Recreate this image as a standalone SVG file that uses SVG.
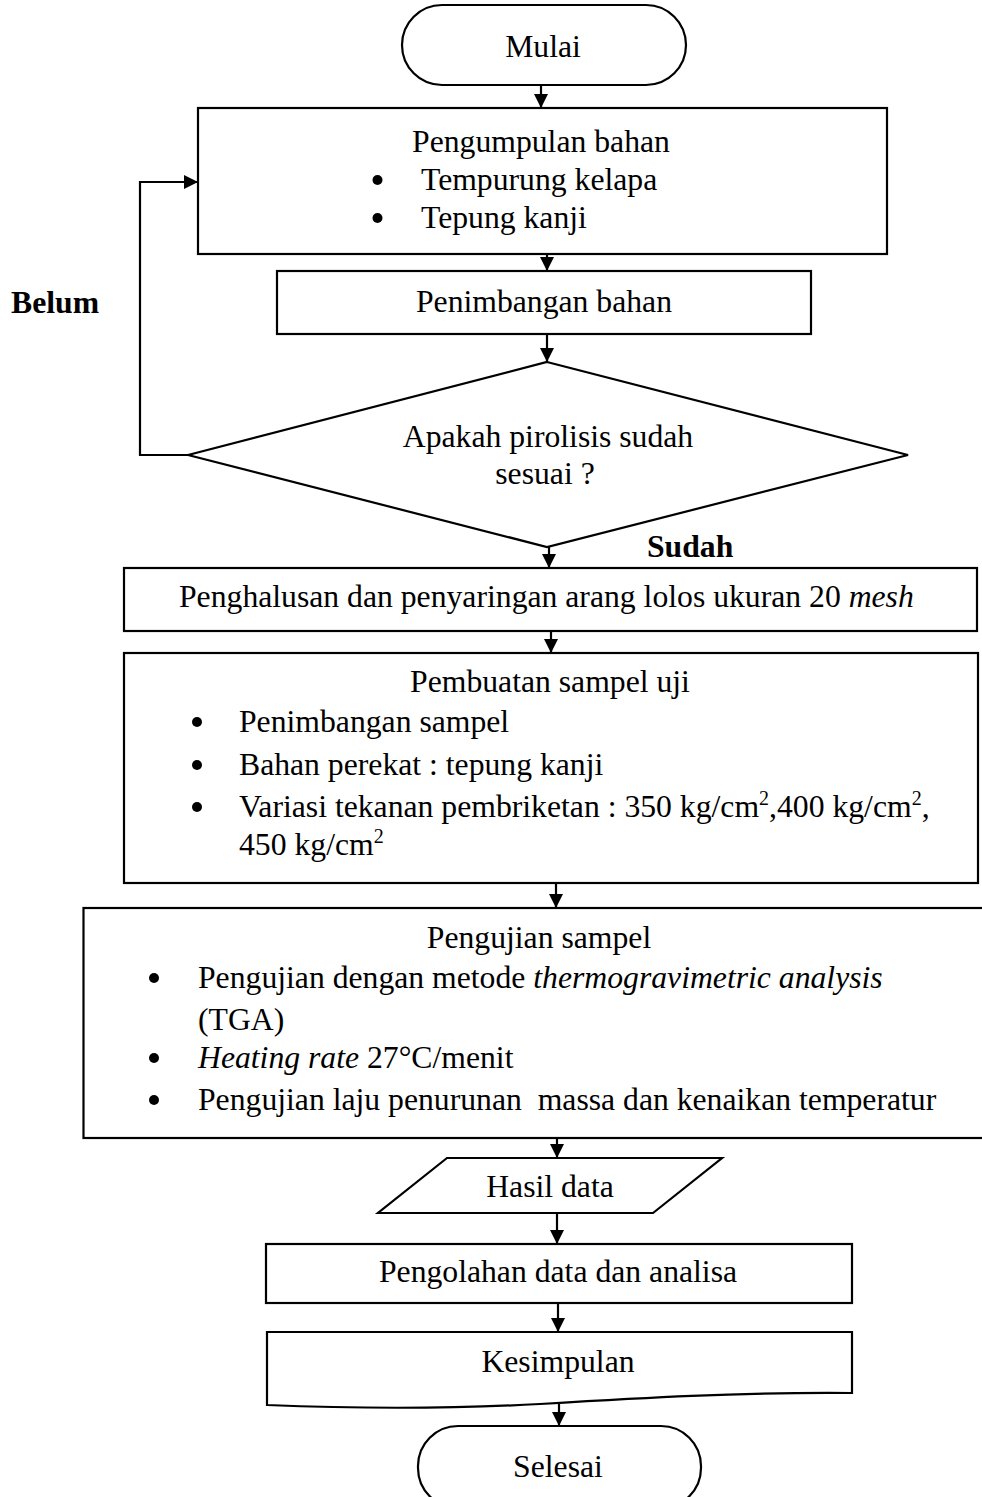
<svg xmlns="http://www.w3.org/2000/svg" width="982" height="1497" viewBox="0 0 982 1497">
<style>
.s{fill:#fff;stroke:#000;stroke-width:2.2}
.t{font-family:"Liberation Serif","Times New Roman",serif;font-size:31.7px;fill:#000}
.c{text-anchor:middle}
.b{font-weight:bold}
.i{font-style:italic}
.dot{fill:#000}
.sup{font-size:20px}
.ln{fill:none;stroke:#000;stroke-width:2.2}
</style>
<defs>
<marker id="ah" viewBox="0 0 14 14" refX="14" refY="7" markerWidth="14" markerHeight="14" markerUnits="userSpaceOnUse" orient="auto">
<path d="M0,0 L14,7 L0,14 z" fill="#000"/>
</marker>
</defs>
<rect width="982" height="1497" fill="#fff"/>

<g id="connectors">
<line class="ln" x1="541" y1="85" x2="541" y2="108" marker-end="url(#ah)"/>
<line class="ln" x1="547" y1="254" x2="547" y2="271" marker-end="url(#ah)"/>
<line class="ln" x1="547" y1="334" x2="547" y2="362" marker-end="url(#ah)"/>
<line class="ln" x1="549" y1="547" x2="549" y2="568" marker-end="url(#ah)"/>
<line class="ln" x1="551" y1="631" x2="551" y2="653" marker-end="url(#ah)"/>
<line class="ln" x1="556" y1="883" x2="556" y2="908" marker-end="url(#ah)"/>
<line class="ln" x1="557" y1="1138" x2="557" y2="1158" marker-end="url(#ah)"/>
<line class="ln" x1="557" y1="1213" x2="557" y2="1244" marker-end="url(#ah)"/>
<line class="ln" x1="558" y1="1303" x2="558" y2="1332" marker-end="url(#ah)"/>
<line class="ln" x1="559" y1="1404" x2="559" y2="1426" marker-end="url(#ah)"/>
<polyline class="ln" points="188,455 140,455 140,182 198,182" marker-end="url(#ah)"/>
<text class="t b" x="11" y="313">Belum</text>
<text class="t b" x="647" y="557">Sudah</text>
</g>

<g id="mulai">
<rect class="s" x="402" y="5" width="284" height="80" rx="40" ry="40"/>
<text class="t c" x="543" y="57">Mulai</text>
</g>

<g id="pengumpulan">
<rect class="s" x="198" y="108" width="689" height="146"/>
<text class="t c" x="541" y="152">Pengumpulan bahan</text>
<circle class="dot" cx="377.5" cy="180" r="5"/>
<text class="t" x="421" y="190">Tempurung kelapa</text>
<circle class="dot" cx="377.5" cy="218" r="5"/>
<text class="t" x="421" y="228">Tepung kanji</text>
</g>

<g id="penimbangan">
<rect class="s" x="277" y="271" width="534" height="63"/>
<text class="t c" x="544" y="312">Penimbangan bahan</text>
</g>

<g id="keputusan">
<polygon class="s" points="547,362 908,455 547,547 188,455"/>
<text class="t c" x="548" y="447">Apakah pirolisis sudah</text>
<text class="t c" x="545" y="484">sesuai ?</text>
</g>

<g id="penghalusan">
<rect class="s" x="124" y="568" width="853" height="63"/>
<text class="t" x="179" y="607">Penghalusan dan penyaringan arang lolos ukuran 20 <tspan class="i">mesh</tspan></text>
</g>

<g id="pembuatan">
<rect class="s" x="124" y="653" width="854" height="230"/>
<text class="t c" x="550" y="692">Pembuatan sampel uji</text>
<circle class="dot" cx="197" cy="722" r="5"/>
<text class="t" x="239" y="732">Penimbangan sampel</text>
<circle class="dot" cx="197" cy="765" r="5"/>
<text class="t" x="239" y="775">Bahan perekat : tepung kanji</text>
<circle class="dot" cx="197" cy="807" r="5"/>
<text class="t" x="239" y="817">Variasi tekanan pembriketan : 350 kg/cm<tspan class="sup" dy="-12">2</tspan><tspan dy="12">,400 kg/cm</tspan><tspan class="sup" dy="-12">2</tspan><tspan dy="12">,</tspan></text>
<text class="t" x="239" y="855">450 kg/cm<tspan class="sup" dy="-12">2</tspan></text>
</g>

<g id="pengujian">
<rect class="s" x="83.5" y="908" width="910" height="230"/>
<text class="t c" x="539" y="948">Pengujian sampel</text>
<circle class="dot" cx="154" cy="978" r="5"/>
<text class="t" x="198" y="988">Pengujian dengan metode <tspan class="i">thermogravimetric analysis</tspan></text>
<text class="t" x="198" y="1030">(TGA)</text>
<circle class="dot" cx="154" cy="1058" r="5"/>
<text class="t" x="198" y="1068"><tspan class="i">Heating rate</tspan> 27°C/menit</text>
<circle class="dot" cx="154" cy="1100" r="5"/>
<text class="t" x="198" y="1110" xml:space="preserve" style="white-space:pre">Pengujian laju penurunan  massa dan kenaikan temperatur</text>
</g>

<g id="hasil">
<polygon class="s" points="447,1158 722,1158 653,1213 378,1213"/>
<text class="t c" x="550" y="1197">Hasil data</text>
</g>

<g id="pengolahan">
<rect class="s" x="266" y="1244" width="586" height="59"/>
<text class="t c" x="558" y="1282">Pengolahan data dan analisa</text>
</g>

<g id="kesimpulan">
<path class="s" d="M267,1332 H852 V1393 C740,1392 640,1398 540,1404 C430,1410 340,1408 267,1405 Z"/>
<text class="t c" x="558" y="1372">Kesimpulan</text>
</g>

<g id="selesai">
<rect class="s" x="418" y="1426" width="283" height="82" rx="40" ry="40"/>
<text class="t c" x="558" y="1477">Selesai</text>
</g>
</svg>
